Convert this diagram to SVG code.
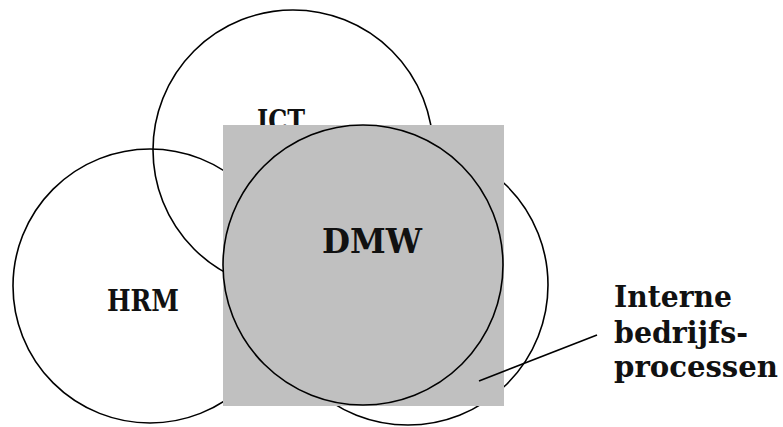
<svg xmlns="http://www.w3.org/2000/svg" width="783" height="427" viewBox="0 0 783 427">
  <style>
    .ring { fill: none; stroke: #000; stroke-width: 1.6; }
    .lbl { font-family: "DejaVu Serif", "Liberation Serif", serif; font-weight: bold; fill: #111; }
    .lead { stroke: #000; stroke-width: 1.6; fill: none; }
  </style>
  <rect width="783" height="427" fill="#fff"/>

  <!-- outer domains -->
  <g id="ict">
    <circle class="ring" cx="293" cy="150" r="140"/>
    <text class="lbl" x="281" y="131" font-size="30" text-anchor="middle" textLength="48" lengthAdjust="spacingAndGlyphs">ICT</text>
  </g>
  <g id="hrm">
    <circle class="ring" cx="150" cy="286" r="137"/>
    <text class="lbl" x="143" y="311" font-size="30" text-anchor="middle" textLength="72" lengthAdjust="spacingAndGlyphs">HRM</text>
  </g>
  <g id="processen">
    <circle class="ring" cx="408" cy="285" r="140"/>
    <text class="lbl" x="614" y="307" font-size="30" textLength="118" lengthAdjust="spacingAndGlyphs">Interne</text>
    <text class="lbl" x="614" y="343" font-size="30" textLength="134" lengthAdjust="spacingAndGlyphs">bedrijfs-</text>
    <text class="lbl" x="614" y="377" font-size="30" textLength="164" lengthAdjust="spacingAndGlyphs">processen</text>
  </g>

  <!-- central domain -->
  <g id="dmw">
    <rect x="223" y="125" width="281" height="281" fill="#c0c0c0"/>
    <circle class="ring" cx="363" cy="265" r="140"/>
    <text class="lbl" x="372" y="253" font-size="34" text-anchor="middle" textLength="100" lengthAdjust="spacingAndGlyphs">DMW</text>
  </g>

  <g id="connectors">
    <line class="lead" x1="479" y1="381" x2="597" y2="335"/>
  </g>
</svg>
